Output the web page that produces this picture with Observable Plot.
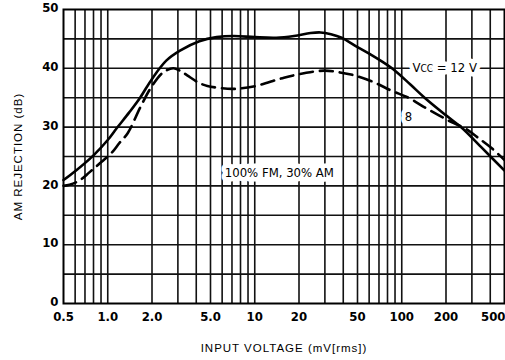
<!DOCTYPE html>
<html>
<head>
<meta charset="utf-8">
<script src="https://cdn.jsdelivr.net/npm/d3@7"></script>
<script src="https://cdn.jsdelivr.net/npm/@observablehq/plot@0.6"></script>
<style>
  html, body { margin: 0; padding: 0; background: #fff; }
  #chart svg { display: block; }
  #chart svg [aria-label="x-axis label"] text,
  #chart svg [aria-label="y-axis label"] text { letter-spacing: 1px; font-family: "Liberation Sans", Arial, sans-serif; font-size: 11.5px; font-weight: normal; }
</style>
</head>
<body>
<div id="chart"></div>
<script>
// Input voltage (mV rms) and AM rejection (dB), VCC = 12 V (solid)
const vcc12X = [0.5, 0.6, 0.8, 1.0, 1.15, 1.4, 1.66, 2.0, 2.5, 3.1, 4.2, 5.5, 7.2, 10, 14, 18.5, 24, 28, 33, 39, 50, 60, 75, 90, 115, 143, 200, 256, 350, 500];
const vcc12Y = [21, 22.5, 25.2, 27.8, 29.8, 32.5, 35, 38.2, 41.3, 43, 44.6, 45.3, 45.5, 45.3, 45.2, 45.5, 46, 46.1, 45.8, 45.2, 43.6, 42.5, 41, 39.6, 37.2, 35, 32, 29.9, 26.5, 22.6];
// VCC = 8 V (dashed)
const vcc8X = [0.5, 0.55, 0.64, 0.75, 0.88, 1.07, 1.2, 1.37, 1.66, 2.0, 2.38, 2.79, 3.1, 3.47, 4.2, 4.76, 6, 7.2, 9.8, 15.8, 22, 29.7, 38, 47.5, 65, 85, 111, 140, 179, 220, 269, 330, 414, 500];
const vcc8Y = [20, 20.2, 20.9, 22.3, 23.8, 25.7, 27.3, 29, 33.3, 37, 39.3, 40, 39.6, 38.8, 37.5, 37, 36.6, 36.5, 36.9, 38.4, 39.2, 39.6, 39.3, 38.8, 37.6, 36.2, 35, 33.5, 32, 30.8, 29.8, 28.2, 26.3, 24.4];

// axes
const xTicks = [0.5, 1, 2, 5, 10, 20, 50, 100, 200, 500];
const xTickLabels = ["0.5", "1.0", "2.0", "5.0", "10", "20", "50", "100", "200", "500"];
const yTicks = [0, 10, 20, 30, 40, 50];
const xGrid = [0.6, 0.7, 0.8, 0.9, 1, 2, 3, 4, 5, 6, 7, 8, 9, 10, 20, 30, 40, 50, 60, 70, 80, 90, 100, 200, 300, 400];
const yGrid = [5, 10, 15, 20, 25, 30, 35, 40, 45];

// annotations
const noteText = ["VCC = 12 V", "8", "100% FM, 30% AM"];
const noteX = [196, 111, 14.7];
const noteY = [40.1, 31.8, 22.3];

const solid = vcc12X.map((x, i) => ({x, y: vcc12Y[i]}));
const dashed = vcc8X.map((x, i) => ({x, y: vcc8Y[i]}));
const notes = noteText.map((t, i) => ({t, x: noteX[i], y: noteY[i]}));
const xLabels = xTicks.map((x, i) => ({x, t: xTickLabels[i], last: i === xTicks.length - 1}));

const tickFont = '"Liberation Sans Narrow", "DejaVu Sans Condensed", Arial, sans-serif';
const noteOpts = {x: "x", y: "y", text: "t", fontSize: 13, fontWeight: 500, textAnchor: "middle"};

const plot = Plot.plot({
  width: 505,
  height: 360,
  marginLeft: 63,
  marginRight: 1,
  marginTop: 9,
  marginBottom: 57,
  style: {background: "#fff", color: "#000", fontFamily: tickFont, fontSize: "13px", fontWeight: "bold"},
  x: {type: "log", domain: [0.5, 500]},
  y: {domain: [0, 50]},
  marks: [
    Plot.ruleX(xGrid, {stroke: "#111", strokeWidth: 1.6}),
    Plot.ruleY(yGrid, {stroke: "#111", strokeWidth: 1.6}),
    Plot.text(notes, {...noteOpts, fill: "#fff", stroke: "#fff", strokeWidth: 9}),
    Plot.text(notes, {...noteOpts, fill: "#000"}),
    Plot.line(solid, {x: "x", y: "y", stroke: "#000", strokeWidth: 2.6, curve: "catmull-rom"}),
    Plot.line(dashed, {x: "x", y: "y", stroke: "#000", strokeWidth: 2.6, strokeDasharray: "13,7", curve: "catmull-rom"}),
    Plot.frame({stroke: "#000", strokeWidth: 2}),
    Plot.text(xLabels.filter(d => !d.last), {x: "x", text: "t", frameAnchor: "bottom", dy: 17, fill: "#000", fontSize: 13, fontWeight: "bold", textAnchor: "middle"}),
    Plot.text(xLabels.filter(d => d.last), {x: "x", text: "t", frameAnchor: "bottom", dy: 17, fill: "#000", fontSize: 13, fontWeight: "bold", textAnchor: "end", dx: 1}),
    Plot.axisX({ticks: [], tickSize: 0,
      label: "INPUT VOLTAGE (mV[rms])", labelAnchor: "center", labelOffset: 48, labelArrow: "none"}),
    Plot.axisY({ticks: yTicks, tickSize: 0, tickPadding: 5, dy: -1.5,
      label: "AM REJECTION (dB)", labelAnchor: "center", labelOffset: 50, labelArrow: "none"})
  ]
});
document.getElementById("chart").appendChild(plot);

// small-caps "CC" in the VCC label (both halo and text copies)
plot.querySelectorAll("text").forEach(t => {
  if (t.textContent === "VCC = 12 V") {
    t.textContent = "";
    const ns = "http://www.w3.org/2000/svg";
    const parts = [["V", null], ["CC", "10px"], [" = 12 V", null]];
    for (const [s, fs] of parts) {
      const ts = document.createElementNS(ns, "tspan");
      ts.textContent = s;
      if (fs) ts.setAttribute("font-size", fs);
      t.appendChild(ts);
    }
  }
});
</script>
</body>
</html>
